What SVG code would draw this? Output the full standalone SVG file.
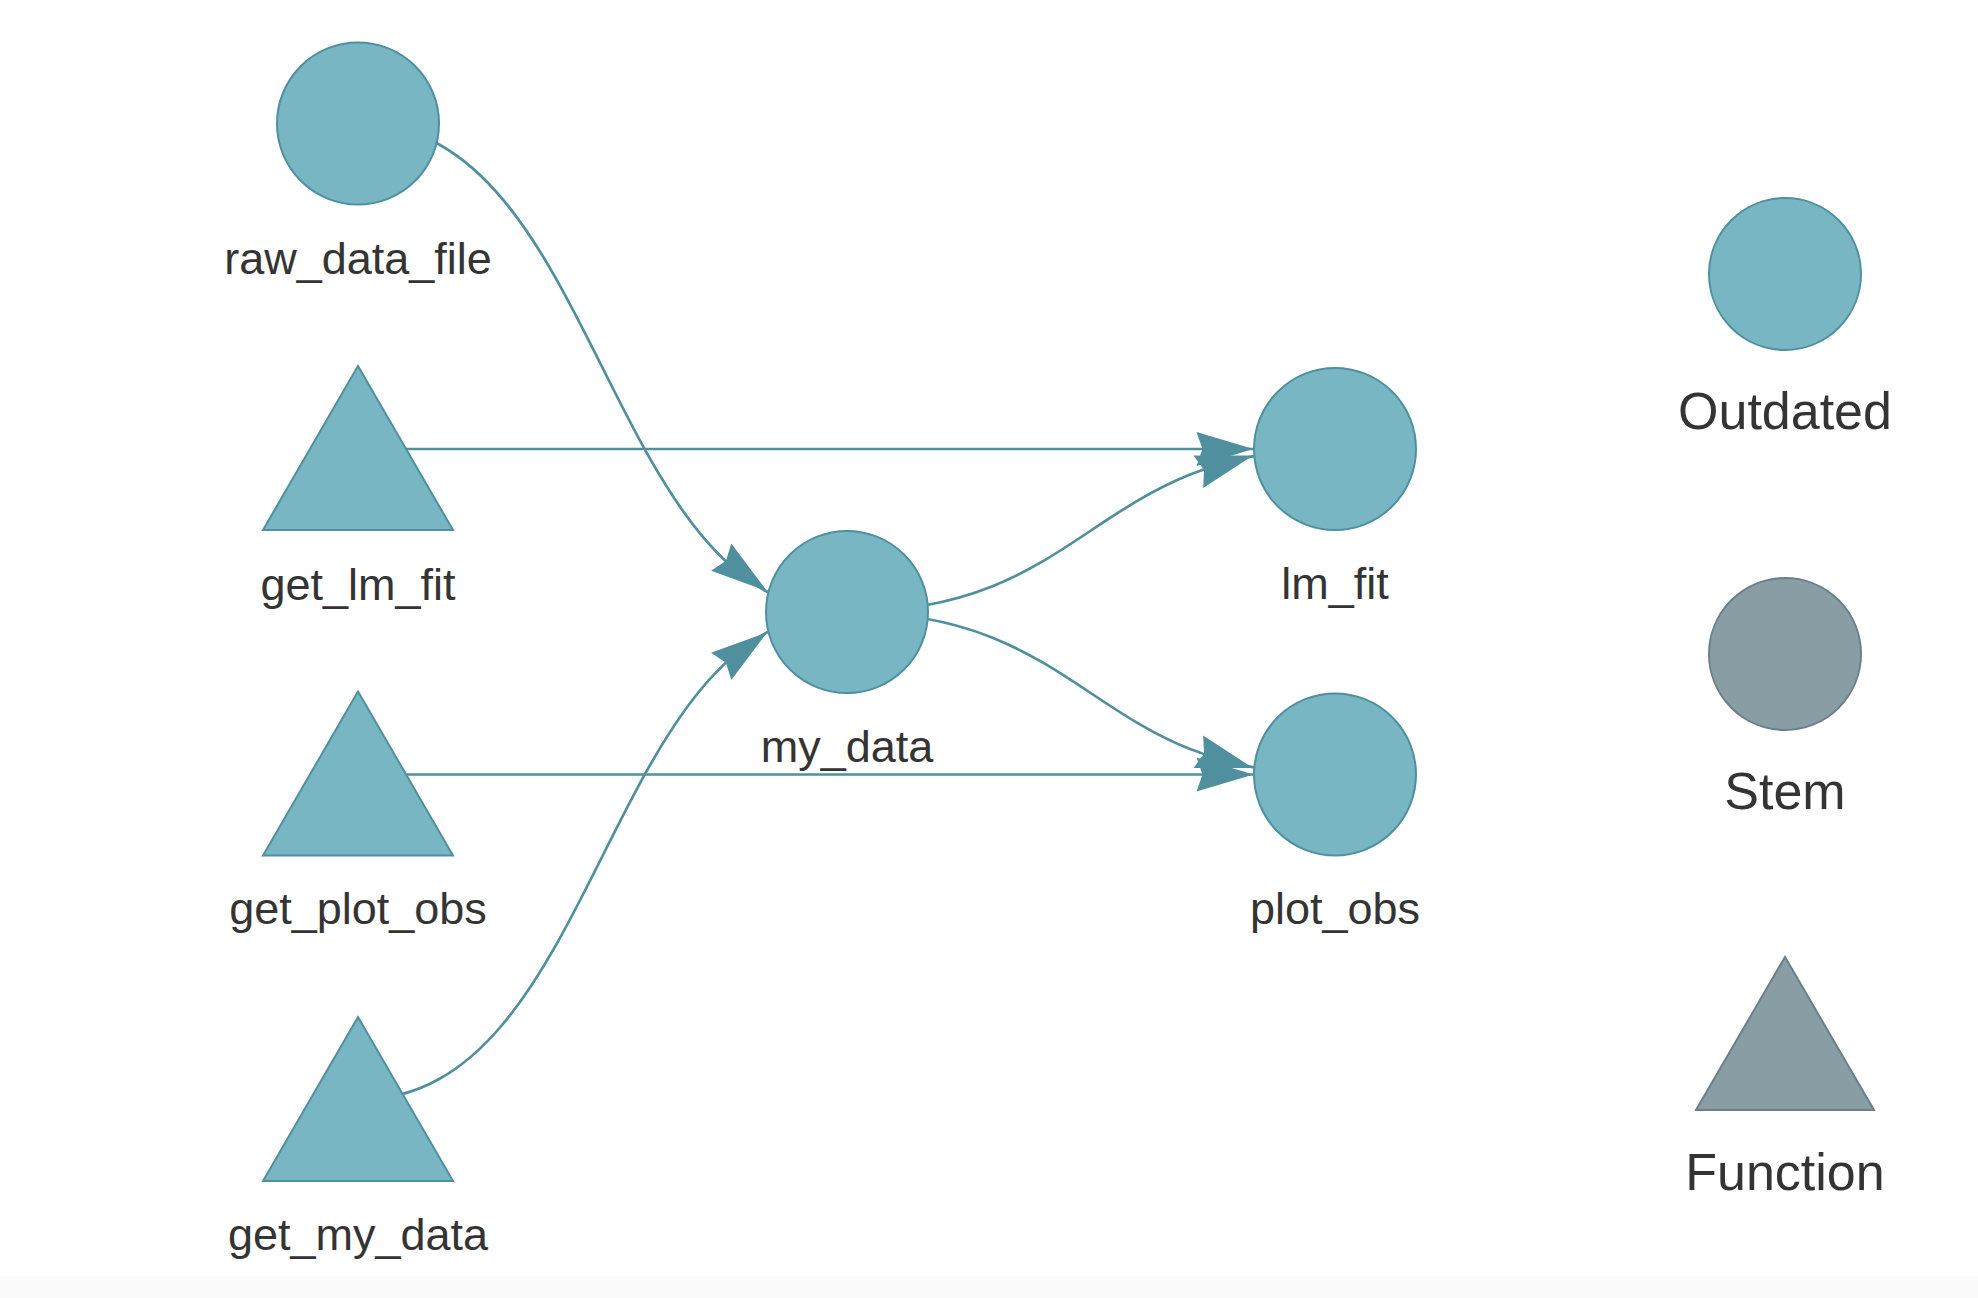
<svg xmlns="http://www.w3.org/2000/svg" xmlns:xlink="http://www.w3.org/1999/xlink" width="1978" height="1298" viewBox="0 0 1978 1298">
<style>
.edge{fill:none;stroke:#4f8f9e;stroke-width:2.7}
.arr{fill:#4f8f9e;stroke:none}
.out{fill:#78b6c4;stroke:#4f909e;stroke-width:2}
.stem{fill:#899da4;stroke:#6a7f88;stroke-width:2}
.lbl{font-family:"Liberation Sans",Arial,sans-serif;font-size:45px;fill:#343434;text-anchor:middle}
.leg{font-family:"Liberation Sans",Arial,sans-serif;font-size:52px;fill:#343434;text-anchor:middle}
</style>
<defs>
<path id="arrowhead" d="M0,0 L-57,-17 L-51,0 L-57,17 Z"/>
</defs>
<rect x="0" y="0" width="1978" height="1298" fill="#ffffff"/>
<rect x="0" y="1276" width="1978" height="22" fill="#fbfbfb"/>
<g id="connectors">
<path class="edge" d="M358,123.5 C602.5,123.5 602.5,612 847,612"/>
<path class="edge" d="M358,1100 C602.5,1100 602.5,612 847,612"/>
<path class="edge" d="M358,449 L1335,449"/>
<path class="edge" d="M358,774.5 L1335,774.5"/>
<path class="edge" d="M847,612 C1091,612 1091,449 1335,449"/>
<path class="edge" d="M847,612 C1091,612 1091,774.5 1335,774.5"/>
<use class="arr" xlink:href="#arrowhead" transform="translate(767,591) rotate(36.5)"/>
<use class="arr" xlink:href="#arrowhead" transform="translate(767,632.5) rotate(-36.5)"/>
<use class="arr" xlink:href="#arrowhead" transform="translate(1253.5,449)"/>
<use class="arr" xlink:href="#arrowhead" transform="translate(1253.5,774.5)"/>
<use class="arr" xlink:href="#arrowhead" transform="translate(1253,455.5) rotate(-16.5)"/>
<use class="arr" xlink:href="#arrowhead" transform="translate(1253,768) rotate(16.5)"/>
</g>
<g id="raw_data_file">
<circle class="out" cx="358" cy="123.5" r="81"/>
<text class="lbl" x="358" y="274">raw_data_file</text>
</g>
<g id="get_lm_fit">
<polygon class="out" points="358,366 453,530 263,530"/>
<text class="lbl" x="358" y="600">get_lm_fit</text>
</g>
<g id="get_plot_obs">
<polygon class="out" points="358,691.5 453,855.5 263,855.5"/>
<text class="lbl" x="358" y="924">get_plot_obs</text>
</g>
<g id="get_my_data">
<polygon class="out" points="358,1017 453,1181 263,1181"/>
<text class="lbl" x="358" y="1250">get_my_data</text>
</g>
<g id="my_data">
<circle class="out" cx="847" cy="612" r="81"/>
<text class="lbl" x="847" y="762">my_data</text>
</g>
<g id="lm_fit">
<circle class="out" cx="1335" cy="449" r="81"/>
<text class="lbl" x="1335" y="599">lm_fit</text>
</g>
<g id="plot_obs">
<circle class="out" cx="1335" cy="774.5" r="81"/>
<text class="lbl" x="1335" y="924">plot_obs</text>
</g>
<g id="legend_outdated">
<circle class="out" cx="1785" cy="274" r="76"/>
<text class="leg" x="1785" y="429">Outdated</text>
</g>
<g id="legend_stem">
<circle class="stem" cx="1785" cy="654" r="76"/>
<text class="leg" x="1785" y="809">Stem</text>
</g>
<g id="legend_function">
<polygon class="stem" points="1785,957 1874,1110 1696,1110"/>
<text class="leg" x="1785" y="1190">Function</text>
</g>
</svg>
